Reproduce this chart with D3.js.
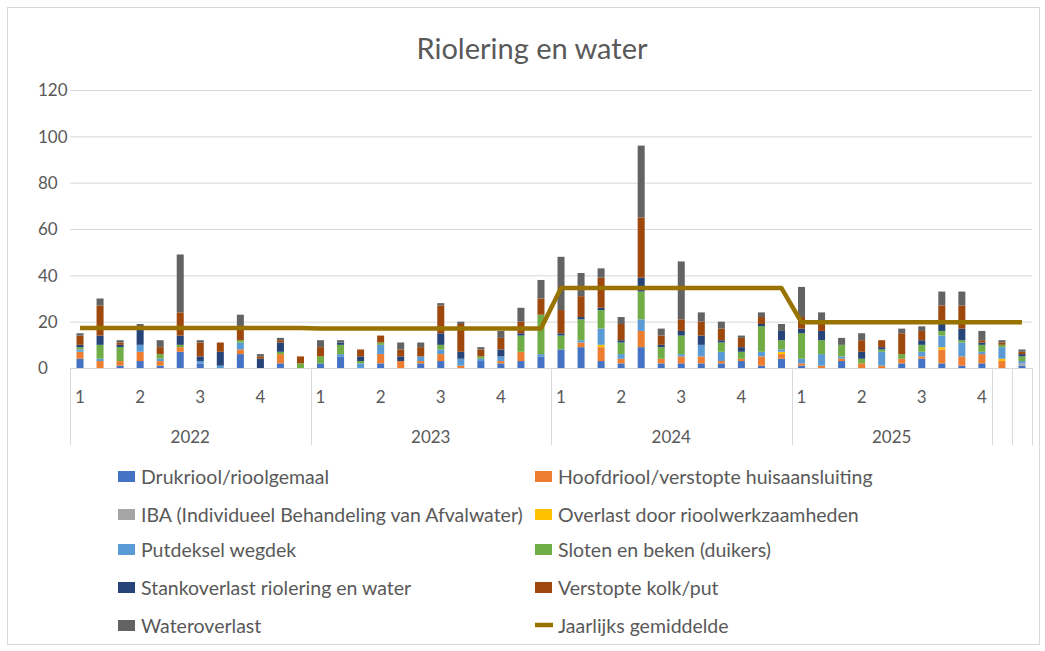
<!DOCTYPE html>
<html>
  <head>
    <meta charset="utf-8">
    <title>Riolering en water</title>
    <script src="https://cdn.jsdelivr.net/npm/d3@7"></script>
    <style>
     body { margin: 0; background: #fff; }
     svg { font-family: Lato, "Open Sans", sans-serif; }
     .tick text { fill: #595959; }
     .grid line { stroke: #d9d9d9; }
    </style>
  </head>
  <body>
    <svg id="chart" width="1045" height="651"></svg>
    <script>
     // groups on the category axis (years), with the number of months in each
     var groupLabels = ["2022", "2023", "2024", "2025", "", ""];
     var groupSizes = [12, 12, 12, 10, 1, 1];
     var quarterLabels = ["1", "2", "3", "4"];

     // yearly average line, one value per group
     var yearAvg = [17.3, 17.1, 34.5, 19.7, 19.7, 19.7];

     var seriesNames = [
       "Drukriool/rioolgemaal",
       "Hoofdriool/verstopte huisaansluiting",
       "IBA (Individueel Behandeling van Afvalwater)",
       "Overlast door rioolwerkzaamheden",
       "Putdeksel wegdek",
       "Sloten en beken (duikers)",
       "Stankoverlast riolering en water",
       "Verstopte kolk/put",
       "Wateroverlast"
     ];
     var lineName = "Jaarlijks gemiddelde";

     var drukriool  = [4,0,1,3,1,7,2,0,6,0,2,0, 2,5,0,2,0,2,3,0,3,2,3,5, 8,9,3,2,9,2,2,2,2,3,1,4, 1,0,3,0,0,2,4,2,1,2,0,1];
     var hoofdriool = [3,3,2,4,2,2,0,0,2,0,4,0, 0,0,0,4,3,1,3,1,0,1,4,0, 0,2,6,2,7,2,3,3,1,1,4,2, 1,1,1,2,1,2,1,6,4,4,3,0];
     var iba        = [0,0,0,0,0,0,0,0,0,0,0,0, 0,0,0,0,0,0,0,0,0,0,0,0, 0,0,0,0,0,0,0,0,0,0,0,0, 0,0,0,0,0,0,0,0,0,0,0,1];
     var overlast   = [0,0,0,0,0,0,0,0,0,0,0,0, 0,0,0,0,0,0,0,0,0,0,0,0, 0,0,1,0,0,0,0,0,0,0,0,1, 0,0,0,0,0,0,0,1,0,0,1,0];
     var putdeksel  = [1,1,0,3,1,0,1,1,3,0,0,0, 0,1,2,4,0,2,2,3,1,2,0,1, 0,1,7,2,5,0,1,5,4,0,2,1, 2,5,1,0,6,0,2,5,6,1,5,1];
     var sloten     = [1,6,6,0,2,1,0,0,1,0,1,2, 3,4,1,1,0,0,2,0,1,0,7,17, 6,9,8,5,12,5,8,0,4,3,11,4, 11,6,5,2,1,2,3,2,1,3,1,2];
     var stank      = [1,4,1,7,0,4,2,6,0,4,4,0, 0,1,2,0,2,0,5,3,0,3,1,0, 1,1,1,1,6,1,2,4,1,2,1,4, 2,4,0,3,1,0,2,3,5,1,0,1];
     var kolk       = [4,13,1,1,3,10,6,4,6,1,1,3, 4,0,3,3,3,4,12,12,3,5,5,7, 10,9,13,7,26,4,5,6,5,4,3,0, 5,4,0,5,3,9,4,8,10,1,1,1];
     var water      = [1,3,1,1,3,25,1,0,5,1,1,0, 3,1,0,0,3,2,1,1,1,3,6,8, 23,10,4,3,31,3,25,4,3,1,2,3, 13,4,3,3,0,2,2,6,6,4,1,1];

     var seriesValues = [drukriool, hoofdriool, iba, overlast, putdeksel, sloten, stank, kolk, water];
     var colors = ["#4472c4", "#ed7d31", "#a5a5a5", "#ffc000", "#5b9bd5",
                   "#70ad47", "#264478", "#9e480e", "#636363"];
     var lineColor = "#997300";

     // build a row per month
     var rows = [];
     groupSizes.forEach(function(n, g) {
       for (var m = 0; m < n; m++) {
         var i = rows.length;
         var row = {i: i, group: g, month: m, avg: yearAvg[g]};
         seriesNames.forEach(function(s, k) { row[s] = seriesValues[k][i]; });
         rows.push(row);
       }
     });

     var svg = d3.select("#chart");

     svg.append("rect")
        .attr("x", 7.5).attr("y", 7.5)
        .attr("width", 1032).attr("height", 637)
        .attr("fill", "none")
        .attr("stroke", "#d9d9d9");

     var plotLeft = 70, plotRight = 1032, plotTop = 90, plotBottom = 368;

     var x = d3.scaleBand()
               .domain(rows.map(function(d) { return d.i; }))
               .range([plotLeft, plotRight])
               .paddingInner(0.65)
               .paddingOuter(0.325);

     var y = d3.scaleLinear().domain([0, 120]).range([plotBottom, plotTop]);

     // title
     svg.append("text")
        .attr("x", 532).attr("y", 47)
        .attr("text-anchor", "middle")
        .attr("dominant-baseline", "central")
        .attr("fill", "#595959")
        .style("font-size", "29px")
        .text("Riolering en water");

     // gridlines
     svg.append("g")
        .attr("class", "grid")
        .attr("transform", "translate(" + plotLeft + ",0)")
        .call(d3.axisLeft(y).tickValues(d3.range(20, 121, 20)).tickSize(-(plotRight - plotLeft)).tickFormat(""))
        .call(function(g) { g.select(".domain").remove(); });

     // y labels, left aligned like the picture
     svg.append("g")
        .attr("transform", "translate(38,0)")
        .call(d3.axisRight(y).tickValues(d3.range(0, 121, 20)).tickSize(0).tickPadding(0))
        .call(function(g) {
          g.select(".domain").remove();
          g.selectAll("text").style("font-size", "17px").style("font-family", "Lato, sans-serif").attr("dy", "0.35em");
        });

     // stacked bars
     var stack = d3.stack().keys(seriesNames);
     var layers = stack(rows);

     svg.append("g")
        .selectAll("g")
        .data(layers)
        .join("g")
        .attr("fill", function(d, k) { return colors[k]; })
        .selectAll("rect")
        .data(function(d) { return d; })
        .join("rect")
        .attr("x", function(d) { return x(d.data.i); })
        .attr("width", x.bandwidth())
        .attr("y", function(d) { return y(d[1]); })
        .attr("height", function(d) { return y(d[0]) - y(d[1]); });

     // yearly average line
     var line = d3.line()
                  .x(function(d) { return x(d.i) + x.bandwidth() / 2; })
                  .y(function(d) { return y(d.avg); });

     svg.append("path")
        .datum(rows)
        .attr("d", line)
        .attr("fill", "none")
        .attr("stroke", lineColor)
        .attr("stroke-width", 4.5)
        .attr("stroke-linejoin", "round");

     // category axis: baseline, group dividers, quarter and year labels
     var axisG = svg.append("g").attr("stroke", "#d9d9d9").attr("fill", "none");
     axisG.append("line")
          .attr("x1", plotLeft).attr("x2", plotRight)
          .attr("y1", plotBottom + 0.5).attr("y2", plotBottom + 0.5);

     var step = x.step();
     var starts = [0];
     groupSizes.forEach(function(n, g) { starts.push(starts[g] + n); });
     var edgeX = function(i) { return Math.round(plotLeft + i * step) + 0.5; };

     axisG.selectAll("line.div")
          .data(starts)
          .join("line")
          .attr("class", "div")
          .attr("x1", edgeX).attr("x2", edgeX)
          .attr("y1", plotBottom).attr("y2", 445);

     var quarterRows = rows.filter(function(d) {
       return groupLabels[d.group] !== "" && d.month % 3 === 0;
     });

     svg.append("g")
        .selectAll("text")
        .data(quarterRows)
        .join("text")
        .attr("x", function(d) { return x(d.i) + x.bandwidth() / 2; })
        .attr("y", 396)
        .attr("text-anchor", "middle")
        .attr("dominant-baseline", "central")
        .attr("fill", "#595959")
        .style("font-size", "17px")
        .text(function(d) { return quarterLabels[d.month / 3]; });

     svg.append("g")
        .selectAll("text")
        .data(groupLabels)
        .join("text")
        .attr("x", function(d, g) { return plotLeft + (starts[g] + groupSizes[g] / 2) * step; })
        .attr("y", 436)
        .attr("text-anchor", "middle")
        .attr("dominant-baseline", "central")
        .attr("fill", "#595959")
        .style("font-size", "17px")
        .text(function(d) { return d; });

     // legend, two columns
     var legendItems = seriesNames.concat([lineName]);
     var colX = [118, 535], rowY = [476, 514, 549, 587, 625];

     var item = svg.append("g")
                   .selectAll("g")
                   .data(legendItems)
                   .join("g")
                   .attr("transform", function(d, k) {
                     return "translate(" + colX[k % 2] + "," + rowY[Math.floor(k / 2)] + ")";
                   });

     item.filter(function(d, k) { return k < seriesNames.length; })
         .append("rect")
         .attr("x", 0).attr("y", -5)
         .attr("width", 17).attr("height", 11)
         .attr("fill", function(d) { return colors[seriesNames.indexOf(d)]; });

     item.filter(function(d) { return d === lineName; })
         .append("line")
         .attr("x1", 0).attr("x2", 18)
         .attr("y1", 0).attr("y2", 0)
         .attr("stroke", lineColor)
         .attr("stroke-width", 4.5);

     item.append("text")
         .attr("x", 23)
         .attr("dominant-baseline", "central")
         .attr("fill", "#595959")
         .style("font-size", "19.5px")
         .text(function(d) { return d; });
    </script>
  </body>
</html>
